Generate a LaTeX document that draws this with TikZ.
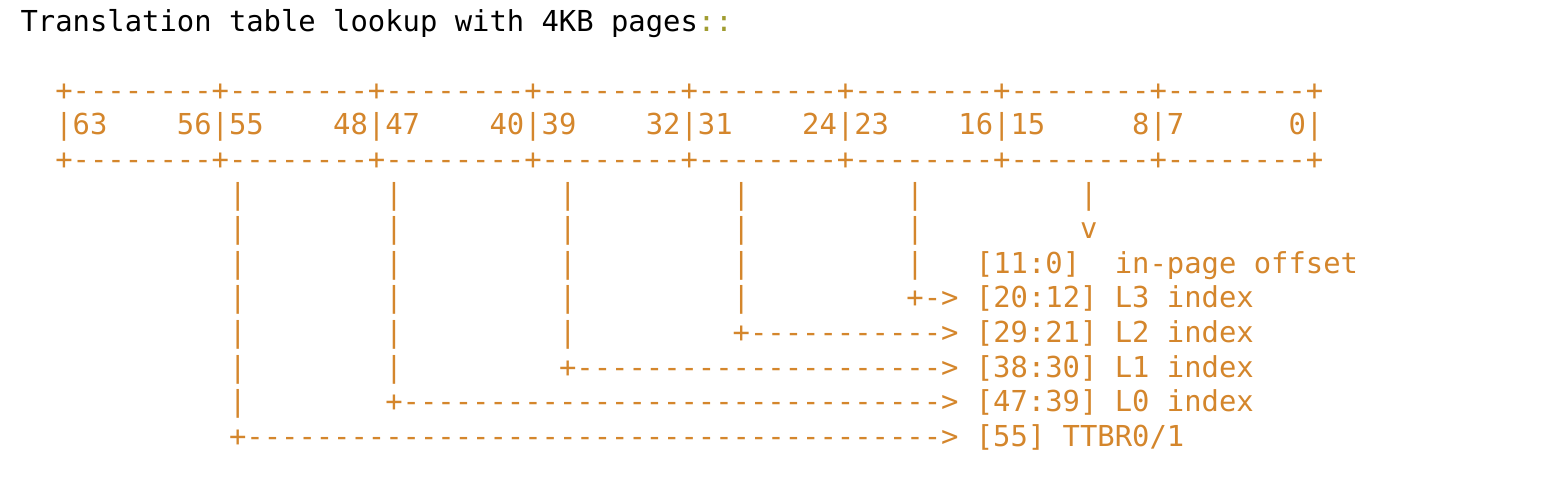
\documentclass[tikz,border=0pt]{standalone}
\usepackage{fontspec}
\setmonofont{DejaVu Sans Mono}
\definecolor{asc}{HTML}{D4862C}
\definecolor{olv}{HTML}{A09C30}
\begin{document}
\begin{tikzpicture}[x=1pt,y=-1pt,
  row/.style={anchor=base west, inner sep=0pt, outer sep=0pt,
    font=\ttfamily\fontsize{28.85}{34.6}\selectfont, text=asc}]
\useasboundingbox (0,0) rectangle (1552,488);
\node[row,text=black] (title) at (20.6,31) {Translation~table~lookup~with~4KB~pages\textcolor{olv}{::}};
\node[row] (top)   at (55.34,100.2) {+--------+--------+--------+--------+--------+--------+--------+--------+};
\node[row] (bits)  at (55.34,134.8) {|63~~~~56|55~~~~48|47~~~~40|39~~~~32|31~~~~24|23~~~~16|15~~~~~8|7~~~~~~0|};
\node[row] (bot)   at (55.34,169.4) {+--------+--------+--------+--------+--------+--------+--------+--------+};
\node[row] (r5)  at (229.04,204.0) {|~~~~~~~~|~~~~~~~~~|~~~~~~~~~|~~~~~~~~~|~~~~~~~~~|};
\node[row] (r6)  at (229.04,238.6) {|~~~~~~~~|~~~~~~~~~|~~~~~~~~~|~~~~~~~~~|~~~~~~~~~v};
\node[row] (r7)  at (229.04,273.2) {|~~~~~~~~|~~~~~~~~~|~~~~~~~~~|~~~~~~~~~|~~~[11:0]~~in-page~offset};
\node[row] (r8)  at (229.04,307.8) {|~~~~~~~~|~~~~~~~~~|~~~~~~~~~|~~~~~~~~~+->~[20:12]~L3~index};
\node[row] (r9)  at (229.04,342.4) {|~~~~~~~~|~~~~~~~~~|~~~~~~~~~+----------->~[29:21]~L2~index};
\node[row] (r10) at (229.04,377.0) {|~~~~~~~~|~~~~~~~~~+--------------------->~[38:30]~L1~index};
\node[row] (r11) at (229.04,411.6) {|~~~~~~~~+------------------------------->~[47:39]~L0~index};
\node[row] (r12) at (229.04,446.2) {+---------------------------------------->~[55]~TTBR0/1};
\end{tikzpicture}
\end{document}
